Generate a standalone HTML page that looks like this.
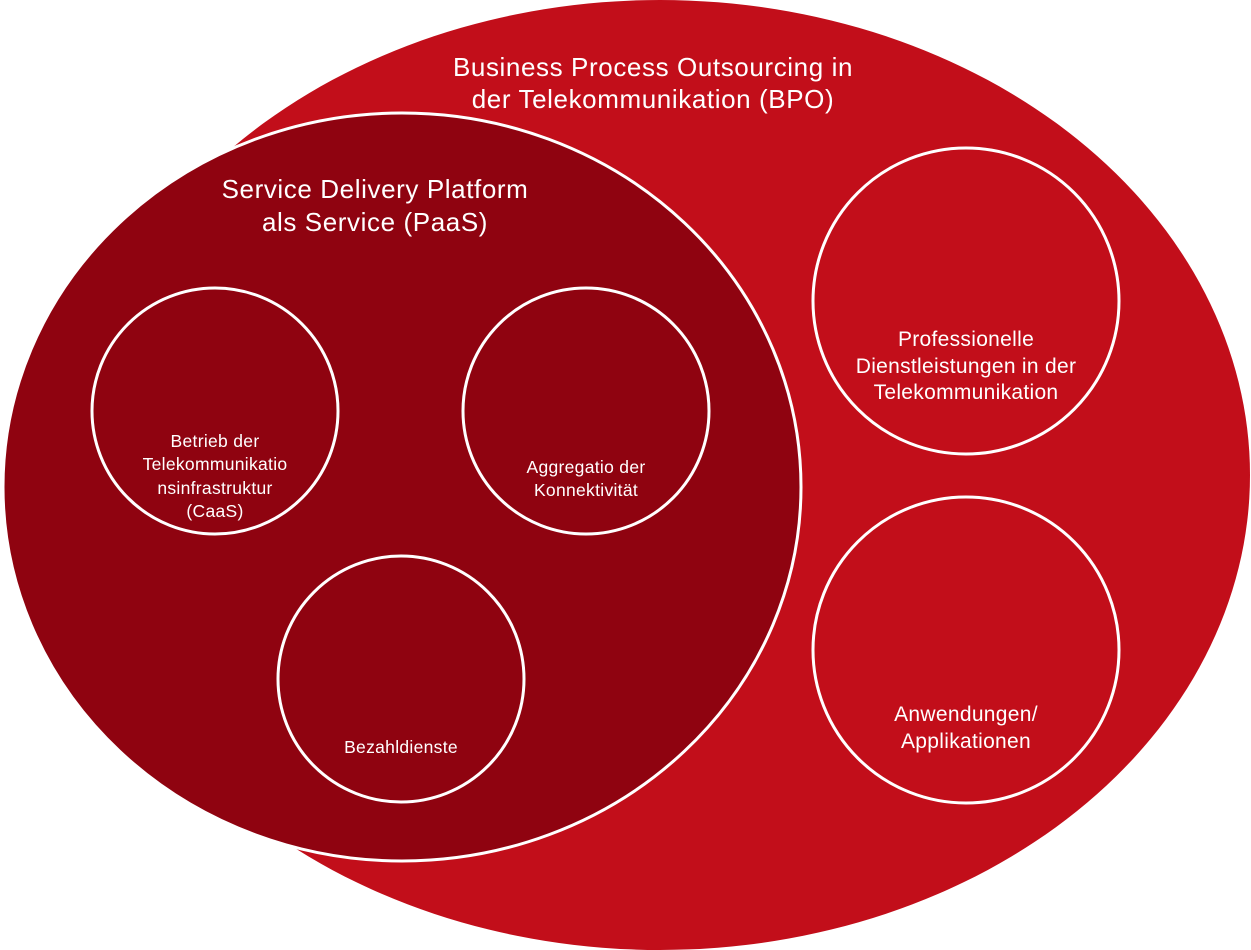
<!DOCTYPE html>
<html><head><meta charset="utf-8"><style>
html,body{margin:0;padding:0;background:#fff;}
svg{display:block;}
text{font-family:"Liberation Sans",sans-serif;fill:#fff;}
</style></head><body>
<svg width="1251" height="950" viewBox="0 0 1251 950">
<ellipse cx="660" cy="475" rx="590" ry="475" fill="#c20e1a"/>
<ellipse cx="402" cy="487" rx="399" ry="374" fill="#8f0310" stroke="#fff" stroke-width="3"/>
<g fill="none" stroke="#fff" stroke-width="3">
<circle cx="215" cy="411" r="123"/>
<circle cx="586" cy="411" r="123"/>
<circle cx="401" cy="679" r="123"/>
<circle cx="966" cy="301" r="153"/>
<circle cx="966" cy="650" r="153"/>
</g>
<g text-anchor="middle">
<text x="653" y="76" font-size="26" letter-spacing="0.6">Business Process Outsourcing in</text>
<text x="653" y="108" font-size="26" letter-spacing="0.6">der Telekommunikation (BPO)</text>
<text x="375" y="198" font-size="26" letter-spacing="0.6">Service Delivery Platform</text>
<text x="375" y="231" font-size="26" letter-spacing="0.6">als Service (PaaS)</text>
<text x="215" y="447" font-size="17.5" letter-spacing="0.3">Betrieb der</text>
<text x="215" y="470" font-size="17.5" letter-spacing="0.3">Telekommunikatio</text>
<text x="215" y="494" font-size="17.5" letter-spacing="0.3">nsinfrastruktur</text>
<text x="215" y="517" font-size="17.5" letter-spacing="0.3">(CaaS)</text>
<text x="586" y="473" font-size="17.5" letter-spacing="0.3">Aggregatio der</text>
<text x="586" y="496" font-size="17.5" letter-spacing="0.3">Konnektivität</text>
<text x="401" y="753" font-size="17.5" letter-spacing="0.3">Bezahldienste</text>
<text x="966" y="346" font-size="21" letter-spacing="0.3">Professionelle</text>
<text x="966" y="373" font-size="21" letter-spacing="0.3">Dienstleistungen in der</text>
<text x="966" y="399" font-size="21" letter-spacing="0.3">Telekommunikation</text>
<text x="966" y="721" font-size="21" letter-spacing="0.3">Anwendungen/</text>
<text x="966" y="748" font-size="21" letter-spacing="0.3">Applikationen</text>
</g>
</svg>
</body></html>
